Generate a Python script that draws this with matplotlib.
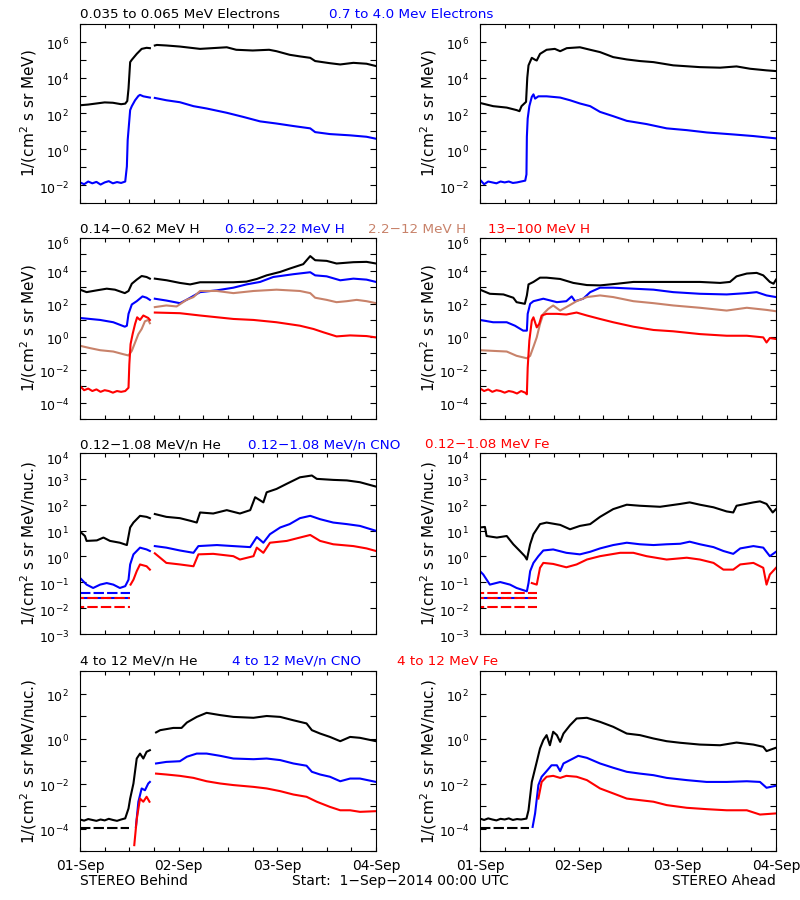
import numpy as np
import matplotlib
matplotlib.use('Agg')
import matplotlib.pyplot as plt
import matplotlib.dates as mdates
import matplotlib.transforms as mtrans
from matplotlib.ticker import FixedLocator, NullFormatter, LogFormatterSciNotation
from datetime import datetime, timedelta

# values as (hour since 01-Sep 00:00, log10 flux); None = data gap
start = datetime(2014, 9, 1)

# --- row 1: electrons
b_e_low = [(0, 2.46), (2, 2.5), (4, 2.56), (6, 2.62), (8, 2.6), (10, 2.52), (11, 2.55), (11.5, 2.7),
           (11.8, 3.39), (12.2, 4.87), (12.6, 5.0), (13.8, 5.33), (15, 5.61), (16.2, 5.67), (17, 5.65),
           (17.6, None), (18.2, 5.8), (18.7, 5.83), (21, 5.8), (24.3, 5.74), (29.2, 5.61), (35.7, 5.7),
           (38, 5.56), (42, 5.52), (46, 5.56), (47.8, 5.48), (51, 5.28), (53.5, 5.19), (56, 5.11),
           (57.2, 4.93), (60.8, 4.81), (63.3, 4.74), (66.5, 4.83), (69.7, 4.78), (72, 4.65)]
b_e_high = [(0, -1.85), (1, -1.95), (2, -1.8), (3, -1.9), (4, -1.82), (5, -1.97), (6, -1.85), (7, -1.78),
            (8, -1.9), (9, -1.83), (10, -1.88), (11, -1.8), (11.4, -0.96), (11.6, 0.52), (12.2, 2.19),
            (12.6, 2.41), (13.4, 2.74), (14.2, 2.98), (14.6, 3.04), (15.4, 2.96), (17, 2.89), (17.6, None),
            (18.2, 2.87), (21, 2.74), (24.3, 2.63), (27.6, 2.41), (30.8, 2.28), (35.7, 2.04), (39.7, 1.81),
            (43.8, 1.56), (47.8, 1.44), (51.9, 1.3), (56, 1.17), (57.2, 0.96), (60.8, 0.85), (65.7, 0.78),
            (69.7, 0.7), (72, 0.59)]
a_e_low = [(0, 2.59), (3.2, 2.41), (6.5, 2.33), (8.9, 2.19), (9.6, 2.13), (10.1, 2.41), (11.2, 2.65),
           (11.5, 4.0), (11.8, 4.69), (12.6, 5.11), (13.4, 5.0), (13.8, 4.96), (14.6, 5.33), (16.2, 5.56),
           (18.2, 5.61), (19.5, 5.48), (21.1, 5.65), (24.3, 5.7), (26.8, 5.56), (29.2, 5.43), (32.4, 5.15),
           (35.7, 5.02), (38.9, 4.93), (42.2, 4.87), (47, 4.69), (53.5, 4.59), (58.4, 4.56), (62.4, 4.63),
           (65.7, 4.5), (69.7, 4.41), (72, 4.37)]
a_e_high = [(0, -1.7), (1, -1.95), (2, -1.8), (3, -1.85), (4, -1.9), (5, -1.8), (6, -1.85), (7, -1.8),
            (8, -1.88), (9, -1.85), (10, -1.8), (11, -1.75), (11.3, -1.4), (11.4, 0.7), (11.6, 1.72),
            (12, 2.41), (12.6, 2.93), (13, 3.07), (13.4, 2.83), (14.2, 2.96), (16.2, 2.96), (19.5, 2.89),
            (21.9, 2.74), (24.3, 2.56), (26.8, 2.41), (29.2, 2.09), (32.4, 1.85), (35.7, 1.59), (40.5, 1.41),
            (45.4, 1.17), (50.3, 1.07), (55.2, 0.94), (61.6, 0.83), (66.5, 0.74), (72, 0.61)]

# --- row 2: protons
b_h1 = [(0, 2.86), (1.6, 2.71), (4.1, 2.82), (6.5, 2.92), (8.5, 2.86), (10.9, 2.65), (11.8, 2.78),
        (12.6, 3.22), (13.8, 3.47), (15, 3.69), (16.2, 3.63), (17, 3.53), (17.6, None), (18.2, 3.53),
        (21.1, 3.43), (24.3, 3.27), (26.8, 3.18), (29.2, 3.31), (33.3, 3.31), (37.3, 3.31), (40.5, 3.35),
        (43, 3.51), (45.4, 3.73), (48.7, 3.94), (51, 4.14), (54.3, 4.41), (56, 4.9), (57.2, 4.65),
        (60, 4.61), (62.4, 4.45), (66.5, 4.53), (69.7, 4.55), (72, 4.45)]
b_h2 = [(0, 1.14), (4.9, 1.02), (8.1, 0.88), (10.9, 0.61), (11.4, 0.67), (11.8, 1.39), (12.6, 1.96),
        (13.8, 2.16), (15.2, 2.45), (16.2, 2.37), (17, 2.24), (17.6, None), (18.2, 2.31), (21, 2.2),
        (24.3, 2.04), (25.9, 2.24), (29.2, 2.71), (33.3, 2.82), (37.3, 2.98), (40.5, 3.18), (43.8, 3.33),
        (47, 3.63), (51.9, 3.8), (56, 3.92), (57.2, 3.73), (60, 3.67), (63.3, 3.43), (66.5, 3.53),
        (69.7, 3.47), (72, 3.33)]
b_h3 = [(0, -0.55), (2.4, -0.69), (4.9, -0.82), (8.1, -0.9), (10.5, -1.06), (11.8, -1.14), (12.6, -0.86),
        (13.4, -0.35), (14.2, 0.16), (15, 0.47), (15.8, 0.94), (16.6, 1.02), (17, 0.82), (17.6, None),
        (18.2, 1.8), (21, 1.9), (23.5, 1.84), (24.7, 2.04), (25.9, 2.24), (27.6, 2.41), (29.2, 2.78),
        (33.3, 2.78), (37.3, 2.65), (42.2, 2.78), (47.8, 2.86), (53.5, 2.78), (56, 2.65), (57.2, 2.37),
        (60, 2.24), (62.4, 2.1), (64.9, 2.16), (67.3, 2.24), (69.7, 2.16), (72, 2.04)]
b_h4 = [(0, -3.0), (1, -3.25), (2, -3.15), (3, -3.3), (4, -3.2), (5, -3.35), (6, -3.25), (7, -3.3),
        (8, -3.4), (9, -3.3), (10, -3.35), (11, -3.3), (11.8, -3.1), (12, -1.67), (12.3, -0.45),
        (12.8, 0.16), (13.4, 0.78), (13.9, 1.18), (14.6, 1.02), (15.4, 1.29), (16.6, 1.14), (17, 1.02),
        (17.6, None), (18.2, 1.47), (24.3, 1.43), (29.2, 1.29), (37.3, 1.08), (42.2, 1.02), (47.8, 0.88),
        (53.5, 0.67), (56.8, 0.47), (59.2, 0.27), (62.4, 0.02), (65.7, 0.08), (69.7, 0.04), (72, -0.04)]
a_h1 = [(0, 2.86), (2.4, 2.61), (5.7, 2.57), (8.1, 2.37), (8.9, 2.1), (10.9, 2.0), (11.4, 2.51),
        (11.8, 3.18), (13, 3.33), (14.6, 3.59), (16.2, 3.59), (19.5, 3.51), (22.7, 3.27), (26, 3.14),
        (29.2, 3.12), (33.3, 3.22), (37.3, 3.33), (43.8, 3.33), (49.5, 3.33), (53.5, 3.33), (58.4, 3.27),
        (60.8, 3.33), (62.4, 3.67), (64.9, 3.84), (67.3, 3.88), (68.9, 3.73), (70.5, 3.33), (71.4, 3.22),
        (72, 3.47)]
a_h2 = [(0, 1.02), (3.2, 0.88), (6.5, 0.88), (8.5, 0.67), (10.5, 0.37), (11.4, 0.37), (11.6, 1.39),
        (12.2, 2.0), (13, 2.16), (15.4, 2.31), (18.7, 2.1), (21, 2.16), (22.3, 2.45), (23.1, 2.16),
        (25.1, 2.31), (26.8, 2.71), (29.2, 2.98), (32.4, 2.98), (37.3, 2.92), (42.2, 2.86), (47, 2.71),
        (53.5, 2.61), (60, 2.57), (64.9, 2.65), (67.3, 2.71), (69.7, 2.51), (72, 2.41)]
a_h3 = [(0, -0.82), (3.2, -0.86), (6.5, -0.9), (8.9, -1.16), (11.4, -1.31), (12.2, -1.16), (13, -0.61),
        (13.8, -0.04), (14.6, 0.78), (15.4, 1.39), (16.6, 1.69), (17.8, 1.9), (19.5, 1.59), (21, 1.8),
        (23.5, 2.16), (26, 2.41), (29.2, 2.51), (32.4, 2.41), (37.3, 2.16), (42.2, 2.04), (47, 1.9),
        (53.5, 1.76), (60, 1.59), (64.9, 1.76), (69.7, 1.63), (72, 1.55)]
a_h4 = [(0, -3.14), (1, -3.3), (2, -3.2), (3, -3.35), (4, -3.25), (5, -3.3), (6, -3.4), (7, -3.3),
        (8, -3.35), (9, -3.45), (10, -3.3), (11, -3.4), (11.4, -3.5), (11.6, -1.88), (12, -0.24),
        (12.6, 0.98), (13, 1.18), (13.8, 0.57), (14.4, 0.78), (15, 1.29), (16.2, 1.39), (18.7, 1.39),
        (21, 1.35), (23.5, 1.47), (26, 1.29), (29.2, 1.08), (32.4, 0.88), (37.3, 0.61), (42.2, 0.41),
        (47, 0.33), (53.5, 0.16), (60, 0.06), (64.9, 0.06), (68.9, -0.04), (69.7, -0.35), (70.5, -0.08),
        (72, -0.14)]

# --- row 3: 0.12-1.08 MeV/n heavy ions
b_he1 = [(0, 0.96), (1.2, 0.79), (1.6, 0.6), (4.1, 0.62), (5.7, 0.73), (7.3, 0.6), (9.7, 0.53),
         (11.4, 0.44), (12.2, 1.12), (13, 1.31), (14.6, 1.57), (16.2, 1.53), (17, 1.48), (17.6, None),
         (18.2, 1.64), (21, 1.53), (24.3, 1.48), (26.8, 1.38), (28.4, 1.31), (29.2, 1.7), (32.4, 1.66),
         (35.7, 1.79), (38.9, 1.66), (41.4, 1.79), (42.6, 2.29), (44.6, 2.09), (45.4, 2.48), (47.8, 2.61),
         (50.3, 2.81), (53.5, 3.06), (56.4, 3.13), (57.6, 3.0), (61.6, 2.96), (64.9, 2.94), (68.1, 2.87),
         (72, 2.7)]
b_cno1 = [(0, -0.83), (1.6, -1.09), (3.2, -1.22), (4.9, -1.09), (6.5, -1.03), (8.1, -1.09), (9.7, -1.22),
          (11, -1.15), (11.8, -0.9), (12.2, -0.31), (13, 0.08), (14.6, 0.34), (16.2, 0.27), (17, 0.21),
          (17.6, None), (18.2, 0.4), (21, 0.34), (24.3, 0.23), (27.6, 0.14), (28.8, 0.4), (33.3, 0.44),
          (37.3, 0.4), (41.4, 0.36), (43, 0.75), (44.6, 0.53), (46.2, 0.86), (48.7, 1.12), (51, 1.25),
          (53.5, 1.48), (56, 1.57), (58.4, 1.44), (61.6, 1.31), (64.9, 1.25), (68.1, 1.18), (72, 0.99)]
b_fe1 = [(12.3, -1.09), (13, -0.9), (13.8, -0.57), (14.6, -0.31), (16.2, -0.38), (17, -0.51), (17.6, None),
         (18.2, 0.12), (21, -0.25), (24.3, -0.31), (27.6, -0.38), (28.8, 0.08), (32.4, 0.1), (37.3, 0.01),
         (38.9, -0.12), (42.2, 0.01), (43, 0.34), (44.6, 0.14), (46.2, 0.53), (50.3, 0.6), (53.5, 0.73),
         (56, 0.83), (58.4, 0.6), (61.6, 0.47), (66.5, 0.4), (69.7, 0.31), (72, 0.21)]
a_he1 = [(0, 1.12), (1.2, 1.14), (1.6, 0.79), (4.1, 0.73), (6.5, 0.79), (8.1, 0.47), (9.7, 0.21),
         (10.9, 0.01), (11.4, -0.12), (12.2, 0.47), (13, 0.86), (14.6, 1.25), (16.2, 1.31), (19.5, 1.22),
         (21.9, 1.05), (24.3, 1.18), (26.8, 1.25), (29.2, 1.53), (32.4, 1.83), (35.7, 2.0), (38.9, 1.96),
         (43.8, 1.92), (48.7, 2.03), (51, 2.09), (53.5, 2.0), (56.8, 1.9), (60, 1.74), (61.6, 1.7),
         (62.4, 1.96), (66.5, 2.09), (68.1, 2.13), (69.7, 2.03), (71.2, 1.7), (72, 1.83)]
a_cno1 = [(0, -0.57), (0.8, -0.7), (2.4, -1.09), (4.9, -0.99), (7.3, -1.09), (8.9, -1.22), (11.4, -1.35),
          (11.8, -1.03), (12.2, -0.57), (13, -0.25), (14.2, 0.01), (15.4, 0.23), (17.8, 0.27), (21, 0.14),
          (24.3, 0.08), (26.8, 0.18), (29.2, 0.31), (32.4, 0.44), (35.7, 0.53), (38.9, 0.47), (42.2, 0.44),
          (45.4, 0.47), (48.7, 0.49), (51, 0.57), (53.5, 0.47), (56.8, 0.36), (59.2, 0.21), (61.6, 0.1),
          (63.3, 0.31), (66.5, 0.4), (68.9, 0.34), (70.5, 0.01), (72, 0.18)]
a_fe1 = [(12.6, -1.03), (13.8, -1.09), (14.6, -0.44), (15.4, -0.25), (17.8, -0.29), (21, -0.42),
         (23.5, -0.31), (26, -0.12), (29.2, 0.01), (34.1, 0.14), (37.3, 0.14), (40.5, 0.01), (45.4, -0.12),
         (50.3, -0.05), (53.5, -0.12), (56.8, -0.25), (59.2, -0.51), (61.6, -0.51), (63.3, -0.31),
         (66.5, -0.25), (68.9, -0.44), (69.7, -1.09), (70.5, -0.7), (72, -0.44)]

# --- row 4: 4-12 MeV/n heavy ions
b_he2 = [(0, -3.6), (1, -3.65), (2, -3.58), (3, -3.62), (4, -3.66), (5, -3.6), (6, -3.64), (7, -3.57),
         (8, -3.62), (9, -3.66), (10, -3.6), (11, -3.55), (11.8, -3.11), (12.2, -2.67), (13, -2.0),
         (13.8, -0.89), (14.6, -0.67), (15.4, -0.89), (16.2, -0.59), (17, -0.52), (17.6, None),
         (18.5, 0.27), (19.5, 0.37), (22.7, 0.47), (24.7, 0.47), (26, 0.71), (28.4, 0.96), (30.8, 1.14),
         (34.1, 1.04), (37.3, 0.96), (42.2, 0.92), (45.4, 1.0), (48.7, 0.96), (51.9, 0.81), (55.1, 0.67),
         (56.4, 0.37), (58.4, 0.22), (60.8, 0.07), (63.3, -0.12), (65.7, 0.07), (68.1, 0.03), (72, -0.12)]
b_cno2 = [(13.6, -3.93), (14.2, -2.81), (15, -2.22), (15.8, -2.3), (16.6, -2.0), (17, -1.93), (17.6, None),
          (18.5, -1.11), (21, -1.04), (24.3, -1.01), (26, -0.81), (28.4, -0.67), (30.8, -0.67),
          (34.1, -0.77), (37.3, -0.89), (42.2, -0.92), (45.4, -0.89), (48.7, -0.96), (51.9, -1.11),
          (55.1, -1.21), (56.4, -1.48), (58.4, -1.6), (60.8, -1.7), (63.3, -1.9), (65.7, -1.78),
          (68.1, -1.78), (72, -1.93)]
b_fe2 = [(13.2, -4.74), (13.8, -3.59), (14.6, -2.67), (15.4, -2.81), (16.2, -2.59), (16.9, -2.81),
         (17.6, None), (18.5, -1.56), (21, -1.6), (24.3, -1.66), (27.6, -1.75), (30.8, -1.9), (34.1, -2.0),
         (37.3, -2.07), (42.2, -2.15), (45.4, -2.22), (48.7, -2.34), (51.9, -2.49), (55.1, -2.59),
         (57.6, -2.81), (60.8, -3.04), (63.3, -3.19), (65.7, -3.19), (68.1, -3.26), (72, -3.23)]
a_he2 = [(0, -3.56), (1, -3.62), (2, -3.55), (3, -3.6), (4, -3.64), (5, -3.57), (6, -3.6), (7, -3.55),
         (8, -3.62), (9, -3.58), (10, -3.6), (11.3, -3.56), (11.8, -3.19), (12.6, -1.93), (13.8, -1.04),
         (14.6, -0.44), (15.4, -0.07), (16.2, 0.15), (17, -0.3), (17.8, 0.3), (18.7, 0.15), (19.5, -0.15),
         (20.3, 0.22), (21.9, 0.59), (23.5, 0.89), (26, 0.92), (29.2, 0.74), (32.4, 0.52), (35.7, 0.22),
         (38.9, 0.15), (42.2, 0.0), (45.4, -0.12), (48.7, -0.19), (53.5, -0.27), (58.4, -0.3),
         (62.4, -0.18), (66.5, -0.27), (68.9, -0.37), (69.7, -0.56), (72, -0.41)]
a_cno2 = [(12.8, -3.93), (13.4, -3.33), (14.2, -2.07), (15, -1.7), (16.2, -1.45), (17.4, -1.19),
          (18.7, -1.19), (19.5, -1.45), (20.3, -1.11), (21.9, -0.96), (23.9, -0.77), (26, -0.86),
          (29.2, -1.11), (32.4, -1.3), (35.7, -1.48), (38.9, -1.56), (42.2, -1.63), (45.4, -1.75),
          (50.3, -1.85), (55.1, -1.93), (60, -1.93), (64.9, -1.9), (68.1, -1.93), (69.7, -2.19), (72, -2.1)]
a_fe2 = [(14.2, -2.67), (15, -1.93), (16.2, -1.7), (17.8, -1.66), (19.5, -1.75), (21, -1.66), (23.5, -1.7),
         (26, -1.85), (29.2, -2.22), (32.4, -2.44), (35.7, -2.67), (38.9, -2.74), (42.2, -2.81),
         (45.4, -2.96), (50.3, -3.08), (55.1, -3.14), (60, -3.19), (64.9, -3.19), (68.1, -3.38), (72, -3.33)]

# background (fill) levels drawn before onset: (log10 level, end hour)
b_cno1_fill = [(-1.42, 12.2), (-1.61, 12.2)]
b_fe1_fill = [(-1.61, 12.2), (-1.94, 12.2)]
a_cno1_fill = [(-1.61, 13.4)]
a_fe1_fill = [(-1.42, 13.8), (-1.61, 13.8), (-1.94, 13.8)]
b_he2_fill = [(-3.97, 11.8)]
a_he2_fill = [(-3.97, 11.8)]

BLUE = '#0000ff'
RED = '#ff0000'
BROWN = '#c8826a'
FS = 10


def series(pts):
    t = [start + timedelta(hours=p[0]) for p in pts]
    v = [np.nan if p[1] is None else 10.0 ** p[1] for p in pts]
    return t, v


def fill(ax, levels, color, offset=0):
    for lev, end in levels:
        ax.plot([start, start + timedelta(hours=end)], [10.0 ** lev] * 2, color=color, lw=1.5,
                linestyle=(offset, (5, 1.5)))


fig = plt.figure(figsize=(8, 9), dpi=100)
plt.rcParams['font.family'] = 'DejaVu Sans'
shift_small = mtrans.ScaledTranslation(0, -2 / 100, fig.dpi_scale_trans)
shift_top = mtrans.ScaledTranslation(0, -6 / 100, fig.dpi_scale_trans)

cols = [80, 480]
rows = [(24, 203), (238, 419), (453, 634), (671, 851)]
ylims = [(-3, 7), (-5, 6), (-3, 4), (-5, 3)]
ylabels = [r'1/(cm$^2$ s sr MeV)', r'1/(cm$^2$ s sr MeV)',
           r'1/(cm$^2$ s sr MeV/nuc.)', r'1/(cm$^2$ s sr MeV/nuc.)']
data = [
    [[(b_e_low, 'k'), (b_e_high, BLUE)], [(a_e_low, 'k'), (a_e_high, BLUE)]],
    [[(b_h1, 'k'), (b_h2, BLUE), (b_h3, BROWN), (b_h4, RED)],
     [(a_h1, 'k'), (a_h2, BLUE), (a_h3, BROWN), (a_h4, RED)]],
    [[(b_he1, 'k'), (b_cno1, BLUE), (b_fe1, RED)], [(a_he1, 'k'), (a_cno1, BLUE), (a_fe1, RED)]],
    [[(b_he2, 'k'), (b_cno2, BLUE), (b_fe2, RED)], [(a_he2, 'k'), (a_cno2, BLUE), (a_fe2, RED)]],
]

for r, (top, bot) in enumerate(rows):
    lo, hi = ylims[r]
    for c, left in enumerate(cols):
        ax = fig.add_axes([left / 800, 1 - bot / 900, 296 / 800, (bot - top) / 900])
        ax.set_yscale('log')
        ax.set_ylim(10.0 ** lo, 10.0 ** hi)
        ax.set_xlim(start, start + timedelta(days=3))
        if r == 2:
            majors = list(range(lo, hi + 1))
            minors = []
        else:
            majors = [k for k in range(lo, hi + 1) if k % 2 == 0]
            minors = [k for k in range(lo, hi + 1) if k % 2 != 0]
        ax.yaxis.set_major_locator(FixedLocator([10.0 ** k for k in majors]))
        ax.yaxis.set_minor_locator(FixedLocator([10.0 ** k for k in minors]))
        ax.yaxis.set_major_formatter(LogFormatterSciNotation())
        ax.yaxis.set_minor_formatter(NullFormatter())
        ax.xaxis.set_major_locator(mdates.DayLocator())
        ax.xaxis.set_minor_locator(mdates.HourLocator(byhour=[6, 12, 18]))
        ax.xaxis.set_major_formatter(mdates.DateFormatter('%d-%b'))
        ax.tick_params(axis='both', which='both', direction='in', top=True, right=True,
                       width=0.8, labelsize=FS)
        ax.tick_params(axis='y', which='both', length=4.5, pad=8, labelsize=9)
        ax.tick_params(axis='x', which='both', length=3, pad=6, labelbottom=(r == 3))
        for k, lab in zip(majors, ax.get_yticklabels()):
            lab.set_transform(lab.get_transform() + (shift_top if k == hi else shift_small))
        for sp in ax.spines.values():
            sp.set_linewidth(0.8)
        ax.set_ylabel(ylabels[r], fontsize=11)
        ax.yaxis.set_label_coords(-0.14, 0.5)

        if r == 2:
            fill(ax, [b_cno1_fill, a_cno1_fill][c], BLUE)
            fill(ax, [b_fe1_fill, a_fe1_fill][c], RED, offset=3)
        if r == 3:
            fill(ax, [b_he2_fill, a_he2_fill][c], 'k')
        for pts, col in data[r][c]:
            t, v = series(pts)
            ax.plot(t, v, color=col, lw=1.5)

# panel titles: (left x px, baseline y px, text, colour), as in the reference
titles = [
    [(80, 18, '0.035 to 0.065 MeV Electrons', 'k'), (329, 18, '0.7 to 4.0 Mev Electrons', BLUE)],
    [(80, 233, '0.14-0.62 MeV H', 'k'), (225, 233, '0.62-2.22 MeV H', BLUE),
     (368, 233, '2.2-12 MeV H', BROWN), (488, 233, '13-100 MeV H', RED)],
    [(80, 448, '0.12-1.08 MeV/n He', 'k'), (248, 448, '0.12-1.08 MeV/n CNO', BLUE),
     (425, 448, '0.12-1.08 MeV Fe', RED)],
    [(80, 665, '4 to 12 MeV/n He', 'k'), (232, 665, '4 to 12 MeV/n CNO', BLUE),
     (397, 665, '4 to 12 MeV Fe', RED)],
]
for row in titles:
    for x, y, s, col in row:
        fig.text(x / 800, 1 - y / 900, s.replace('-', '\u2212'), color=col, fontsize=9.7,
                 ha='left', va='baseline')

fig.text(80 / 800, 1 - 881 / 900, 'STEREO Behind', fontsize=FS, ha='left', va='center')
fig.text(400 / 800, 1 - 881 / 900, 'Start:  1\u2212Sep\u22122014 00:00 UTC', fontsize=FS,
         ha='center', va='center')
fig.text(776 / 800, 1 - 881 / 900, 'STEREO Ahead', fontsize=FS, ha='right', va='center')

fig.savefig('out.png', dpi=100, facecolor='white')
